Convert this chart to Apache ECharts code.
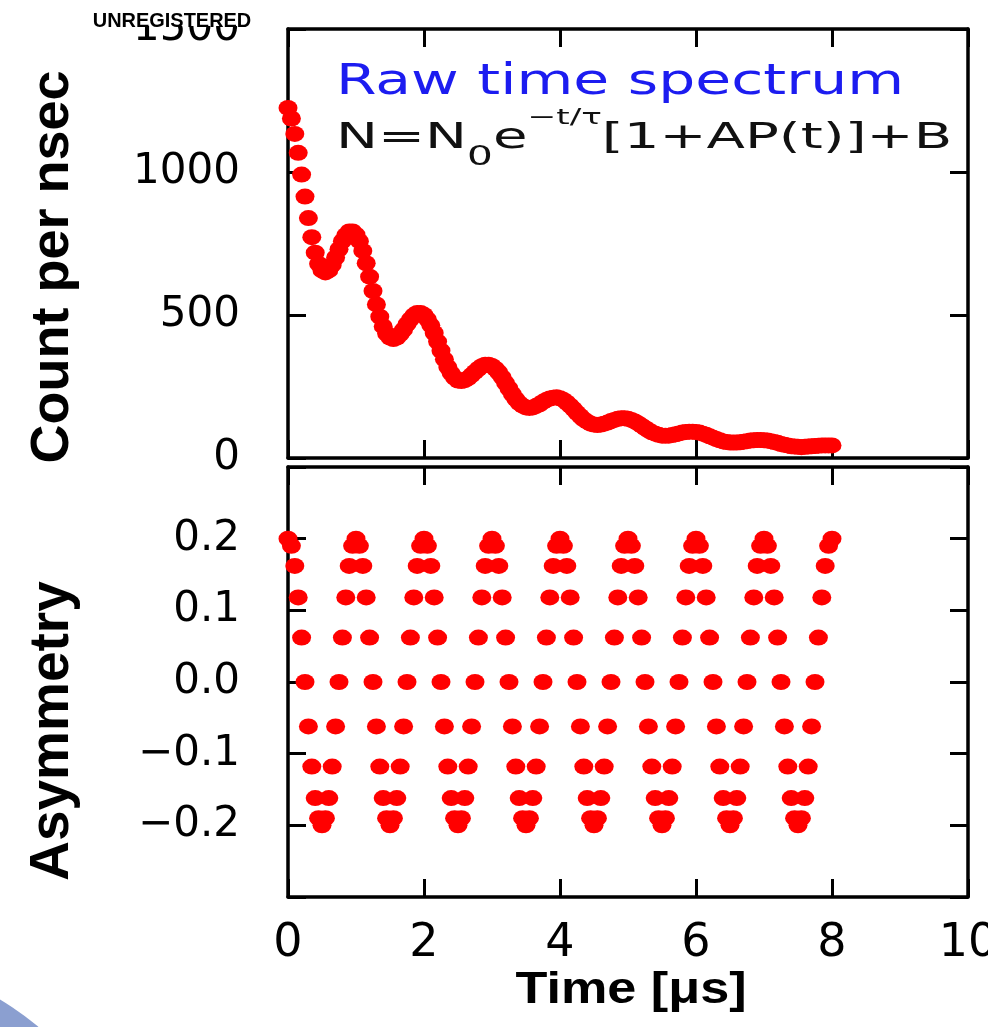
<!DOCTYPE html>
<html>
<head>
<meta charset="utf-8">
<title>Raw time spectrum</title>
<script src="https://cdn.jsdelivr.net/npm/echarts@6/dist/echarts.min.js"></script>
<style>
  html, body { margin: 0; padding: 0; background: #fff; }
  #chart { width: 988px; height: 1027px; }
</style>
</head>
<body>
<div id="chart"></div>
<script>
// sample times in µs (one point every 0.05 µs)
const times = [
  0, 0.05, 0.1, 0.15, 0.2, 0.25, 0.3, 0.35, 0.4, 0.45, 0.5, 0.55, 0.6, 0.65, 0.7, 0.75, 0.8, 0.85, 0.9, 0.95,
  1, 1.05, 1.1, 1.15, 1.2, 1.25, 1.3, 1.35, 1.4, 1.45, 1.5, 1.55, 1.6, 1.65, 1.7, 1.75, 1.8, 1.85, 1.9, 1.95,
  2, 2.05, 2.1, 2.15, 2.2, 2.25, 2.3, 2.35, 2.4, 2.45, 2.5, 2.55, 2.6, 2.65, 2.7, 2.75, 2.8, 2.85, 2.9, 2.95,
  3, 3.05, 3.1, 3.15, 3.2, 3.25, 3.3, 3.35, 3.4, 3.45, 3.5, 3.55, 3.6, 3.65, 3.7, 3.75, 3.8, 3.85, 3.9, 3.95,
  4, 4.05, 4.1, 4.15, 4.2, 4.25, 4.3, 4.35, 4.4, 4.45, 4.5, 4.55, 4.6, 4.65, 4.7, 4.75, 4.8, 4.85, 4.9, 4.95,
  5, 5.05, 5.1, 5.15, 5.2, 5.25, 5.3, 5.35, 5.4, 5.45, 5.5, 5.55, 5.6, 5.65, 5.7, 5.75, 5.8, 5.85, 5.9, 5.95,
  6, 6.05, 6.1, 6.15, 6.2, 6.25, 6.3, 6.35, 6.4, 6.45, 6.5, 6.55, 6.6, 6.65, 6.7, 6.75, 6.8, 6.85, 6.9, 6.95,
  7, 7.05, 7.1, 7.15, 7.2, 7.25, 7.3, 7.35, 7.4, 7.45, 7.5, 7.55, 7.6, 7.65, 7.7, 7.75, 7.8, 7.85, 7.9, 7.95,
  8
];

// counts per nsec
const counts = [
  1224, 1187, 1133, 1067, 991, 914, 839, 772, 718, 679, 656, 649, 656, 675, 701, 730, 758, 779, 792, 792,
  781, 758, 724, 681, 634, 584, 537, 494, 460, 435, 421, 416, 421, 433, 449, 468, 485, 499, 507, 507,
  500, 485, 464, 437, 407, 375, 345, 318, 296, 281, 271, 269, 272, 279, 290, 301, 312, 321, 326, 326,
  322, 312, 299, 282, 262, 243, 223, 206, 192, 183, 177, 175, 177, 182, 188, 196, 203, 208, 211, 212,
  209, 203, 194, 183, 171, 158, 146, 135, 127, 120, 117, 115, 117, 120, 124, 129, 133, 137, 139, 139,
  137, 133, 128, 121, 113, 105, 97, 90, 85, 81, 78, 78, 78, 80, 83, 86, 89, 91, 92, 92,
  91, 89, 85, 81, 76, 71, 66, 62, 58, 56, 54, 54, 54, 55, 57, 59, 61, 62, 63, 63,
  62, 61, 59, 56, 53, 49, 46, 44, 41, 40, 39, 38, 39, 40, 41, 42, 43, 44, 44, 44,
  44
];

// asymmetry
const asymmetry = [
  0.2, 0.19, 0.162, 0.118, 0.062, 0, -0.062, -0.118, -0.162, -0.19, -0.2, -0.19, -0.162, -0.118, -0.062, 0, 0.062, 0.118, 0.162, 0.19,
  0.2, 0.19, 0.162, 0.118, 0.062, 0, -0.062, -0.118, -0.162, -0.19, -0.2, -0.19, -0.162, -0.118, -0.062, 0, 0.062, 0.118, 0.162, 0.19,
  0.2, 0.19, 0.162, 0.118, 0.062, 0, -0.062, -0.118, -0.162, -0.19, -0.2, -0.19, -0.162, -0.118, -0.062, 0, 0.062, 0.118, 0.162, 0.19,
  0.2, 0.19, 0.162, 0.118, 0.062, 0, -0.062, -0.118, -0.162, -0.19, -0.2, -0.19, -0.162, -0.118, -0.062, 0, 0.062, 0.118, 0.162, 0.19,
  0.2, 0.19, 0.162, 0.118, 0.062, 0, -0.062, -0.118, -0.162, -0.19, -0.2, -0.19, -0.162, -0.118, -0.062, 0, 0.062, 0.118, 0.162, 0.19,
  0.2, 0.19, 0.162, 0.118, 0.062, 0, -0.062, -0.118, -0.162, -0.19, -0.2, -0.19, -0.162, -0.118, -0.062, 0, 0.062, 0.118, 0.162, 0.19,
  0.2, 0.19, 0.162, 0.118, 0.062, 0, -0.062, -0.118, -0.162, -0.19, -0.2, -0.19, -0.162, -0.118, -0.062, 0, 0.062, 0.118, 0.162, 0.19,
  0.2, 0.19, 0.162, 0.118, 0.062, 0, -0.062, -0.118, -0.162, -0.19, -0.2, -0.19, -0.162, -0.118, -0.062, 0, 0.062, 0.118, 0.162, 0.19,
  0.2
];

// tick labels
const timeTicks = ['0', '2', '4', '6', '8', '10'];
const countTicks = ['0', '500', '1000', '1500'];
const asymTicks = ['\u22120.2', '\u22120.1', '0.0', '0.1', '0.2'];

const countData = times.map((t, i) => [t, counts[i]]);
const asymData = times.map((t, i) => [t, asymmetry[i]]);

// the dots in the picture are a bit wider than tall
const ellipse = 'path://M0,5A5,5 0 1,0 10,5A5,5 0 1,0 0,5Z';

const frameLine = { show: true, onZero: false, lineStyle: { color: '#000', width: 3.5 } };
const inTick = { show: true, inside: true, length: 18, lineStyle: { color: '#000', width: 3 } };
const labelFont = { color: '#000', fontFamily: 'DejaVu Sans', fontSize: 42 };

function xAx(grid, pos, withLabels) {
  return {
    gridIndex: grid, type: 'value', position: pos,
    min: 0, max: 10, interval: 2,
    axisLine: frameLine, axisTick: inTick, splitLine: { show: false },
    axisLabel: withLabels ? Object.assign({}, labelFont, {
      fontSize: 46, margin: 24,
      formatter: v => timeTicks[Math.round(v / 2)]
    }) : { show: false }
  };
}

const chart = echarts.init(document.getElementById('chart'));
chart.setOption({
  animation: false,
  backgroundColor: '#fff',
  grid: [
    { left: 288, top: 29, width: 680, height: 429, containLabel: false, outerBoundsMode: 'none' },
    { left: 288, top: 467, width: 680, height: 430, containLabel: false, outerBoundsMode: 'none' }
  ],
  xAxis: [
    xAx(0, 'bottom', false),
    xAx(0, 'top', false),
    xAx(1, 'bottom', true),
    xAx(1, 'top', false)
  ],
  yAxis: [
    {
      gridIndex: 0, type: 'value', position: 'left', min: 0, max: 1500, interval: 500,
      axisLine: frameLine, axisTick: inTick, splitLine: { show: false },
      axisLabel: Object.assign({}, labelFont, { margin: 48, formatter: v => countTicks[Math.round(v / 500)] })
    },
    {
      gridIndex: 0, type: 'value', position: 'right', min: 0, max: 1500, interval: 500,
      axisLine: frameLine, axisTick: inTick, splitLine: { show: false }, axisLabel: { show: false }
    },
    {
      gridIndex: 1, type: 'value', position: 'left', min: -0.3, max: 0.3, interval: 0.1,
      axisLine: frameLine, axisTick: inTick, splitLine: { show: false },
      axisLabel: Object.assign({}, labelFont, {
        margin: 48,
        formatter: v => { const k = Math.round(v * 10) + 2; return asymTicks[k] || ''; }
      })
    },
    {
      gridIndex: 1, type: 'value', position: 'right', min: -0.3, max: 0.3, interval: 0.1,
      axisLine: frameLine, axisTick: inTick, splitLine: { show: false }, axisLabel: { show: false }
    }
  ],
  series: [
    {
      type: 'scatter', xAxisIndex: 0, yAxisIndex: 0,
      symbol: ellipse, symbolSize: [19, 16],
      itemStyle: { color: '#ff0000', opacity: 1 },
      data: countData
    },
    {
      type: 'scatter', xAxisIndex: 2, yAxisIndex: 2,
      symbol: ellipse, symbolSize: [19, 16],
      itemStyle: { color: '#ff0000', opacity: 1 },
      data: asymData
    }
  ],
  graphic: [
    // blue slide decoration in the corner
    { type: 'circle', shape: { cx: -150, cy: 1250, r: 292 }, style: { fill: '#8b9fd0' }, z: 1 },
    // watermark hiding the top of the 1500 label
    { type: 'rect', shape: { x: 93, y: 0, width: 160, height: 26 }, style: { fill: '#fff' }, z: 100 },
    {
      type: 'text', x: 172, y: 21, scaleX: 0.95, z: 101,
      style: { text: 'UNREGISTERED', font: 'bold 21px "Liberation Sans"', fill: '#000',
        textAlign: 'center', align: 'center', textVerticalAlign: 'middle', verticalAlign: 'middle' }
    },
    {
      type: 'text', x: 336, y: 83, scaleX: 1.39, z: 100,
      style: { text: 'Raw time spectrum', font: '42px "DejaVu Sans"', fill: '#1c1cf0',
        textAlign: 'left', align: 'left', textVerticalAlign: 'middle', verticalAlign: 'middle' }
    },
    {
      type: 'text', x: 336, y: 107, scaleX: 1.56, z: 100,
      style: {
        text: '{m|N=N}{sub|0}{m|e}{sup|\u2212t/\u03c4}{m|[1+AP(t)]+B}',
        fill: '#111', textAlign: 'left', align: 'left', textVerticalAlign: 'top', verticalAlign: 'top',
        rich: {
          m: { fontFamily: 'DejaVu Sans', fontSize: 36, lineHeight: 64, fill: '#111', color: '#111' },
          sub: { fontFamily: 'DejaVu Sans', fontSize: 26, lineHeight: 26, verticalAlign: 'bottom', fill: '#111', color: '#111' },
          sup: { fontFamily: 'DejaVu Sans', fontSize: 22, lineHeight: 22, verticalAlign: 'top', fill: '#111', color: '#111' }
        }
      }
    },
    {
      type: 'text', x: 53, y: 267, rotation: Math.PI / 2, z: 100,
      style: { text: 'Count per nsec', font: 'bold 54px "Liberation Sans"', fill: '#000',
        textAlign: 'center', align: 'center', textVerticalAlign: 'middle', verticalAlign: 'middle' }
    },
    {
      type: 'text', x: 53, y: 731, rotation: Math.PI / 2, z: 100,
      style: { text: 'Asymmetry', font: 'bold 55px "Liberation Sans"', fill: '#000',
        textAlign: 'center', align: 'center', textVerticalAlign: 'middle', verticalAlign: 'middle' }
    },
    {
      type: 'text', x: 631, y: 991, scaleX: 1.16, z: 100,
      style: { text: 'Time [\u03bcs]', font: 'bold 45px "Liberation Sans"', fill: '#000',
        textAlign: 'center', align: 'center', textVerticalAlign: 'middle', verticalAlign: 'middle' }
    }
  ]
});
</script>
</body>
</html>
